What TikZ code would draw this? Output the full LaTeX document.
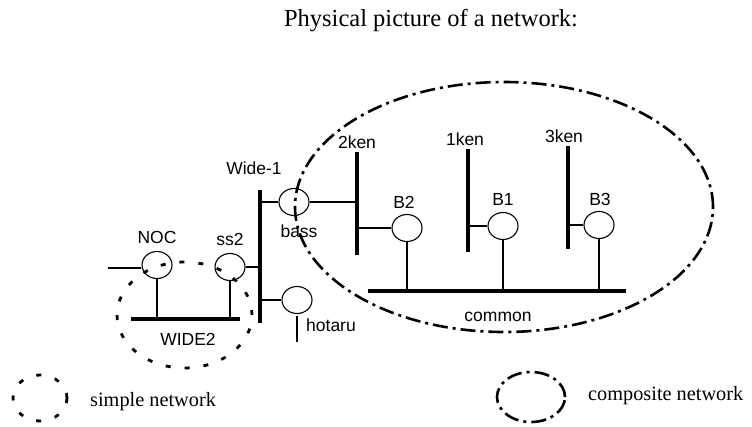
\documentclass[tikz,border=0pt]{standalone}
\usepackage{fontspec}
\setmainfont{Liberation Serif}
\setsansfont{Liberation Sans}
\usetikzlibrary{shapes.geometric}
\begin{document}
\begin{tikzpicture}[x=1pt,y=-1pt,
  host/.style={draw, ellipse, line width=1.1pt, minimum width=30pt, minimum height=27pt, inner sep=0pt},
  bus/.style={line width=4pt},
  link/.style={line width=1.1pt},
  lbl/.style={font=\sffamily\fontsize{17.5}{20}\selectfont, inner sep=0pt},
  legend/.style={font=\fontsize{20.3}{24}\selectfont, inner sep=0pt, anchor=west},
  simplenet/.style={line width=2.8pt, dash pattern=on 5pt off 14pt},
  compnet/.style={line width=2.6pt, dash pattern=on 15pt off 5pt on 3pt off 5pt},
]
\useasboundingbox (0,0) rectangle (752,426);

% title
\node[font=\fontsize{24.5}{29}\selectfont, inner sep=0pt] (title) at (431,21) {Physical picture of a network:};

% bus end points
\coordinate (w1top) at (260,190); \coordinate (w1bot) at (260,323);
\coordinate (k2top) at (357,152); \coordinate (k2bot) at (357,255);
\coordinate (k1top) at (468,149); \coordinate (k1bot) at (468,252);
\coordinate (k3top) at (568,146); \coordinate (k3bot) at (568,249);
\coordinate (cmL) at (368,291);   \coordinate (cmR) at (626,291);
\coordinate (w2L) at (131,319);   \coordinate (w2R) at (240,319);
\coordinate (nocin) at (108,268);
\coordinate (hstub) at (298,342);

% buses
\draw[bus] (w1top) -- (w1bot);
\draw[bus] (k2top) -- (k2bot);
\draw[bus] (k1top) -- (k1bot);
\draw[bus] (k3top) -- (k3bot);
\draw[bus] (cmL) -- (cmR);
\draw[bus] (w2L) -- (w2R);

% hosts
\node[host] (bass) at (294,202) {};
\node[host] (B2) at (407,228) {};
\node[host] (B1) at (503,226) {};
\node[host] (B3) at (599,225) {};
\node[host] (hotaru) at (297,300) {};
\node[host] (ss2) at (230,267) {};
\node[host] (NOC) at (157,265) {};

% links
\draw[link] (bass.west) -- (bass.west -| w1top);
\draw[link] (bass.east) -- (bass.east -| k2top);
\draw[link] (B2.west) -- (B2.west -| k2top);
\draw[link] (B2.south) -- (B2.south |- cmL);
\draw[link] (B1.west) -- (B1.west -| k1top);
\draw[link] (B1.south) -- (B1.south |- cmL);
\draw[link] (B3.west) -- (B3.west -| k3top);
\draw[link] (B3.south) -- (B3.south |- cmL);
\draw[link] (hotaru.west) -- (hotaru.west -| w1top);
\draw[link] ([yshift=-2pt]hotaru.south) -- (hotaru.south |- hstub);
\draw[link] (ss2.east) -- (ss2.east -| w1top);
\draw[link] (ss2.south) -- (ss2.south |- w2L);
\draw[link] (NOC.south) -- (NOC.south |- w2L);
\draw[link] (nocin) -- (nocin -| NOC.west);

% labels
\node[lbl] (lw1) at (254,168) {Wide-1};
\node[lbl] (lnoc) at (157,237) {NOC};
\node[lbl] (lss2) at (230,239) {ss2};
\node[lbl] (lbass) at (299,231) {bass};
\node[lbl] (l2ken) at (357,142) {2ken};
\node[lbl] (l1ken) at (465,139) {1ken};
\node[lbl] (l3ken) at (564,136) {3ken};
\node[lbl] (lB2) at (404,202) {B2};
\node[lbl] (lB1) at (503,199) {B1};
\node[lbl] (lB3) at (600,199) {B3};
\node[lbl] (lhot) at (331,325) {hotaru};
\node[lbl] (lcom) at (498,317) {common};
\node[lbl] (lw2) at (188,339) {WIDE2};

% networks
\draw[compnet] (504,207) ellipse [x radius=209pt, y radius=125pt];
\draw[simplenet] (184.5,315) ellipse [x radius=67.5pt, y radius=53pt];

% legend
\draw[simplenet] (40,398) ellipse [x radius=27pt, y radius=23pt];
\node[legend] (lsimple) at (90,402) {simple network};
\draw[compnet] (531,397) ellipse [x radius=34pt, y radius=25pt];
\node[legend] (lcomp) at (588,396) {composite network};
\end{tikzpicture}
\end{document}
